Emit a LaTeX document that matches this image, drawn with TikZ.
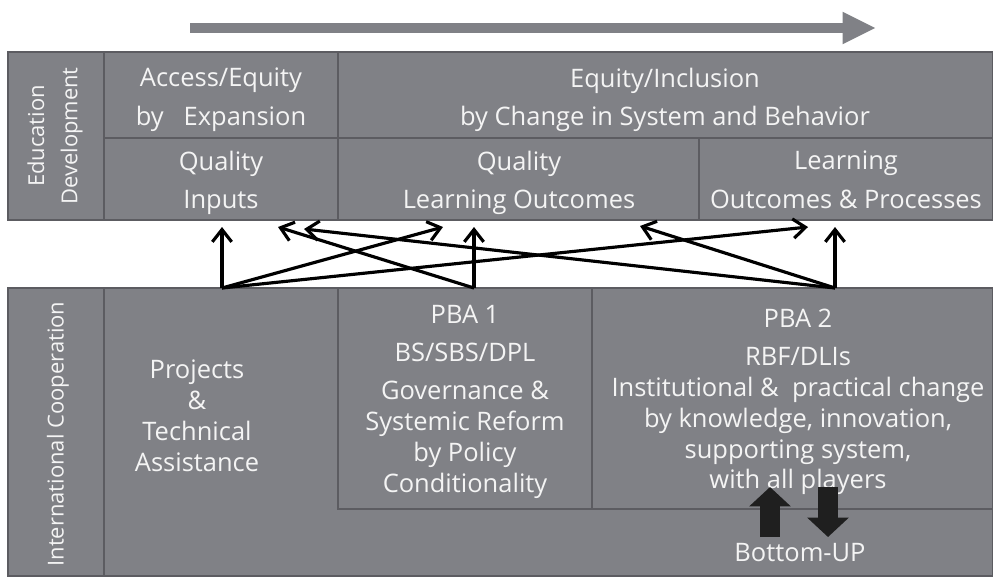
\documentclass[tikz,border=0pt]{standalone}
\usepackage{fontspec}
\setmainfont{Open Sans}
\usetikzlibrary{arrows.meta}

\definecolor{cellgray}{RGB}{128,129,134}
\definecolor{rulegray}{RGB}{92,92,97}
\definecolor{textwhite}{RGB}{244,244,244}

\tikzset{
  cell/.style={fill=cellgray, draw=rulegray, line width=0.6pt},
  lbl/.style={text=textwhite, align=center, inner sep=0pt,
    font=\fontsize{14.5}{17.6}\selectfont},
  twoline/.style={lbl, font=\fontsize{14.5}{22}\selectfont},
  link/.style={draw=black, line width=1.8pt,
    -{Straight Barb[length=7pt,width=11pt,line width=1.8pt]}},
  timeline/.style={draw=cellgray, line width=6.2pt,
    -{Triangle[length=19pt,width=17pt]}},
  updown/.style={draw=black!88, line width=11.3pt,
    -{Triangle[length=11pt,width=23pt]}}
}

\begin{document}
\begin{tikzpicture}[x=0.02cm, y=-0.02cm]
\useasboundingbox (0,0) rectangle (993,576);

% arrow of time
\coordinate (time0) at (190,28);
\coordinate (time1) at (876,28);
\draw[timeline] (time0) -- (time1);

% education development
\draw[cell] (8,52) rectangle (104,220);
\draw[cell] (104,52) rectangle (338,138);
\draw[cell] (338,52) rectangle (993,138);
\draw[cell] (104,138) rectangle (338,220);
\draw[cell] (338,138) rectangle (699,220);
\draw[cell] (699,138) rectangle (993,220);

\node[lbl, rotate=90, font=\fontsize{12.5}{19}\selectfont] (edudev) at (55,136) {Education\\Development};
\node[twoline] (access) at (221,100) {Access/Equity\\by\ \ \ Expansion};
\node[twoline] (equity) at (665,100) {Equity/Inclusion\\by Change in System and Behavior};
\node[twoline] (inputs) at (221,183) {Quality\\Inputs};
\node[twoline] (qlo) at (519,183) {Quality\\Learning Outcomes};
\node[twoline] (lop) at (846,180) {Learning\\Outcomes \& Processes};

% international cooperation
\draw[cell] (8,288) rectangle (104,576);
\draw[cell] (104,288) rectangle (993,576);
\draw[cell] (338,288) rectangle (592,509);
\draw[cell] (592,288) rectangle (993,509);

\node[lbl, rotate=90, font=\fontsize{12.5}{15}\selectfont] (intcoop) at (58,434) {International Cooperation};
\node[lbl] (projects) at (197,416) {Projects\\\&\\Technical\\Assistance};
\node[lbl] (pba1) at (465,402) {PBA 1\\[4pt]BS/SBS/DPL\\[4pt]Governance \&\\Systemic Reform\\by Policy\\Conditionality};
\node[lbl] (pba2) at (798,402) {PBA 2\\[4pt]RBF/DLIs\\Institutional \&\ \ practical change\\by knowledge, innovation,\\supporting system,\\with all players};
\node[lbl] (bottomup) at (800,553) {Bottom-UP};

% up and down
\coordinate (up0) at (770,537);
\coordinate (up1) at (770,487);
\coordinate (down0) at (828,487);
\coordinate (down1) at (828,537);
\draw[updown] (up0) -- (up1);
\draw[updown] (down0) -- (down1);

% links
\coordinate (projtop) at (222,288);
\coordinate (pba1top) at (474,288);
\coordinate (pba2top) at (835,288);
\coordinate (inA) at (222,227);
\coordinate (inB) at (278,227);
\coordinate (inC) at (304,229);
\coordinate (qloA) at (443,227);
\coordinate (qloB) at (474,227);
\coordinate (qloC) at (640,226);
\coordinate (lopA) at (808,227);
\coordinate (lopB) at (835,227);

\path
(projtop) edge[link] (inA)
(projtop) edge[link] (qloA)
(projtop) edge[link] (lopA)
(pba1top) edge[link] (inB)
(pba1top) edge[link] (qloB)
(pba2top) edge[link] (inC)
(pba2top) edge[link] (qloC)
(pba2top) edge[link] (lopB)
;
\end{tikzpicture}
\end{document}
